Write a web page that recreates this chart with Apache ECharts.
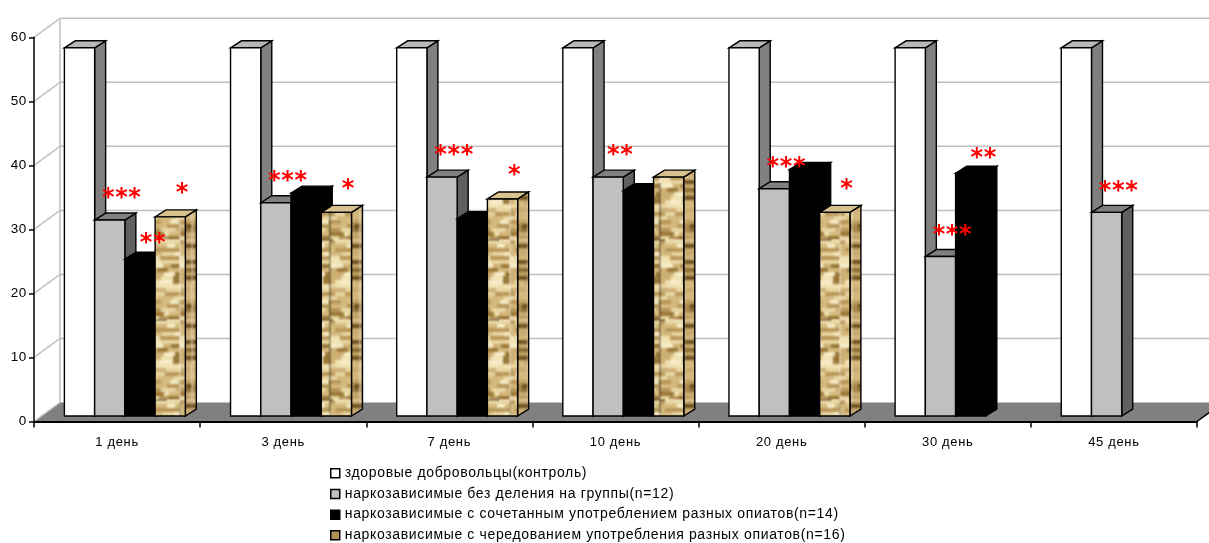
<!DOCTYPE html>
<html><head><meta charset="utf-8">
<script src="https://cdn.jsdelivr.net/npm/echarts@6/dist/echarts.min.js"></script>
<style>html,body{margin:0;padding:0;background:#fff}#c{width:1209px;height:543px}</style>
</head><body><div id="c"></div>
<script>
// ---- data ----
const categories = ['1 день', '3 день', '7 день', '10 день', '20 день', '30 день', '45 день'];
const seriesNames = [
  'здоровые добровольцы(контроль)',
  'наркозависимые без деления на группы(n=12)',
  'наркозависимые с сочетанным употреблением разных опиатов(n=14)',
  'наркозависимые с чередованием употребления разных опиатов(n=16)'
];
const control     = [57.5, 57.5, 57.5, 57.5, 57.5, 57.5, 57.5];
const noDivision  = [30.6, 33.3, 37.3, 37.3, 35.5, 24.9, 31.8];
const combined    = [24.5, 34.8, 30.8, 35.2, 38.5, 37.9, null];
const alternating = [31.1, 31.8, 33.9, 37.3, 31.8, null, null];
const sigControl     = ['', '', '', '', '', '', ''];
const sigNoDivision  = ['***', '***', '***', '**', '***', '***', '***'];
const sigCombined    = ['**', '', '', '', '', '**', ''];
const sigAlternating = ['*', '*', '*', '', '*', '', ''];
const yTickValues = [0, 10, 20, 30, 40, 50, 60];

// ---- style ----
const FONT = '"Liberation Sans", Arial, sans-serif';
const LETTER_SPACING = '0.65px';
const DX = 11, DY = 7, SHIFT_X = 7.8, BASE_UP = 5.5;
const WALL_DX = 26, WALL_DY = 19;

// slightly spaced lettering, as in the original picture
(function () {
  const P = CanvasRenderingContext2D.prototype;
  const origFill = P.fillText, origMeasure = P.measureText, origStroke = P.strokeText;
  P.fillText = function () { this.letterSpacing = LETTER_SPACING; return origFill.apply(this, arguments); };
  P.strokeText = function () { this.letterSpacing = LETTER_SPACING; return origStroke.apply(this, arguments); };
  P.measureText = function () { this.letterSpacing = LETTER_SPACING; return origMeasure.apply(this, arguments); };
})();

function makeTexture(dark, w, h) {
  const raw = document.createElement('canvas');
  raw.width = w; raw.height = h;
  const g = raw.getContext('2d');
  g.fillStyle = dark ? '#b09058' : '#d9c08a';
  g.fillRect(0, 0, w, h);
  const pal = dark
    ? ['#8c6c36', '#c8aa70', '#a8884e', '#bfa062', '#d4b87e', '#6e5020']
    : ['#b89658', '#f0e2b2', '#cdb074', '#e8d6a2', '#f6ecc8', '#d4b97e', '#9a7636'];
  for (let r = 0; r < h / 4; r++) {
    let x = 0, k = 0;
    while (x < w) {
      const q = Math.abs(Math.sin(r * 12.9898 + k * 78.233 + (dark ? 3.1 : 0)) * 43758.5453) % 1;
      const len = 5 + Math.floor(q * 14);
      g.fillStyle = pal[Math.floor(q * 97) % pal.length];
      g.fillRect(x, r * 4, len, 4);
      x += len; k++;
    }
  }
  const out = document.createElement('canvas');
  out.width = w; out.height = h;
  const o = out.getContext('2d');
  o.filter = 'blur(1px)';
  for (let i = -1; i <= 1; i++) for (let j = -1; j <= 1; j++) o.drawImage(raw, i * w, j * h);
  return out;
}
const texFront = makeTexture(false, 30, 80);
const texSide = makeTexture(true, 12, 80);

const faceStyles = [
  { front: '#ffffff', top: '#b8b8b8', side: '#808080', sdx: 12, sdy: -21 },
  { front: '#c0c0c0', top: '#808080', side: '#606060', sdx: 12, sdy: -21 },
  { front: '#000000', top: '#000000', side: '#000000', sdx: 13, sdy: -15 },
  { front: { image: texFront, repeat: 'repeat' }, top: '#d8c28e', side: { image: texSide, repeat: 'repeat' }, sdx: 12, sdy: -23 }
];
const sigs = [sigControl, sigNoDivision, sigCombined, sigAlternating];
const values = [control, noDivision, combined, alternating];

function barRender(slot) {
  const f = faceStyles[slot], sig = sigs[slot];
  return function (params, api) {
    const v = api.value(1);
    if (v == null || isNaN(v)) return;
    const idx = api.value(0);
    const band = api.size([1, 0])[0];
    const w = band * 0.182;
    const top = api.coord([idx, v]);
    const base = api.coord([idx, 0]);
    const x0 = top[0] - 2 * w + slot * w + SHIFT_X;
    const x1 = x0 + w;
    const yT = top[1] - BASE_UP, yB = base[1] - BASE_UP;
    const lw = 1.4;
    const children = [
      { type: 'polygon', shape: { points: [[x1, yT], [x1 + DX, yT - DY], [x1 + DX, yB - DY], [x1, yB]] },
        style: { fill: f.side, stroke: '#000', lineWidth: lw } },
      { type: 'polygon', shape: { points: [[x0, yT], [x0 + DX, yT - DY], [x1 + DX, yT - DY], [x1, yT]] },
        style: { fill: f.top, stroke: '#000', lineWidth: lw } },
      { type: 'rect', shape: { x: x0, y: yT, width: w, height: yB - yT },
        style: { fill: f.front, stroke: '#000', lineWidth: lw } }
    ];
    const s = sig[params.dataIndex];
    if (s) {
      children.push({ type: 'text', z2: 100, x: x0 + w / 2 + f.sdx, y: yT + f.sdy,
        style: { text: s, fill: '#ff0000', font: 'bold 24px "DejaVu Sans", sans-serif', align: 'center', verticalAlign: 'middle' } });
    }
    return { type: 'group', children };
  };
}

function wallRender(params, api) {
  const v = api.value(1);
  const cs = params.coordSys;
  const L = cs.x, R = cs.x + cs.width;
  const y = api.coord([0, v])[1];
  if (v === 0) {
    return { type: 'group', children: [
      { type: 'polygon', shape: { points: [[L, y], [R, y], [R + WALL_DX, y - WALL_DY], [L + WALL_DX, y - WALL_DY]] },
        style: { fill: '#808080', stroke: null } },
      { type: 'line', shape: { x1: L, y1: y, x2: L + WALL_DX, y2: y - WALL_DY }, style: { stroke: '#c0c0c0', lineWidth: 1.5 } },
      { type: 'line', shape: { x1: R, y1: y, x2: R + WALL_DX, y2: y - WALL_DY }, style: { stroke: '#000', lineWidth: 1.5 } },
      { type: 'line', shape: { x1: L + WALL_DX, y1: y - WALL_DY, x2: L + WALL_DX, y2: api.coord([0, 60])[1] - WALL_DY },
        style: { stroke: '#c0c0c0', lineWidth: 1.5 } }
    ] };
  }
  return { type: 'group', children: [
    { type: 'line', shape: { x1: L, y1: y, x2: L + WALL_DX, y2: y - WALL_DY }, style: { stroke: '#c0c0c0', lineWidth: 1.5 } },
    { type: 'line', shape: { x1: L + WALL_DX, y1: y - WALL_DY, x2: R + WALL_DX + 20, y2: y - WALL_DY }, style: { stroke: '#c0c0c0', lineWidth: 1.5 } }
  ] };
}

const legendColors = ['#ffffff', '#c0c0c0', '#000000', '#b0905a'];

const chart = echarts.init(document.getElementById('c'), null, { renderer: 'canvas' });
chart.setOption({
  animation: false,
  backgroundColor: '#ffffff',
  grid: { left: 34, right: 12, top: 37.3, bottom: 121.5, containLabel: false },
  xAxis: {
    type: 'category', data: categories, z: 10,
    axisLine: { lineStyle: { color: '#000', width: 2 } },
    axisTick: { show: true, length: 6, interval: 0, lineStyle: { color: '#000', width: 1.5 } },
    axisLabel: { color: '#000', fontSize: 13, fontFamily: FONT, margin: 14, interval: 0 },
    splitLine: { show: false }
  },
  yAxis: {
    type: 'value', min: 0, max: 60, interval: 10, z: 10,
    axisLine: { show: true, lineStyle: { color: '#000', width: 1.5 } },
    axisTick: { show: true, length: 5, lineStyle: { color: '#000', width: 1.5 } },
    axisLabel: { color: '#000', fontSize: 13.5, fontFamily: FONT, margin: 7 },
    splitLine: { show: false }
  },
  legend: {
    orient: 'vertical', left: 325, top: 461, height: 90,
    itemWidth: 9, itemHeight: 9, itemGap: 6, icon: 'rect',
    textStyle: { color: '#000', fontSize: 14, fontFamily: FONT },
    data: seriesNames.map((n, i) => ({ name: n, itemStyle: { color: legendColors[i], borderColor: '#000', borderWidth: 1.5 } }))
  },
  series: [
    { type: 'custom', name: '_wall', z: 1, silent: true, clip: false, renderItem: wallRender,
      data: yTickValues.map(v => [0, v]), encode: { x: 0, y: 1 } }
  ].concat(values.map((arr, s) => ({
    type: 'custom', name: seriesNames[s], z: 2, clip: false,
    itemStyle: { color: legendColors[s] },
    renderItem: barRender(s),
    data: arr.map((v, i) => [i, v]),
    encode: { x: 0, y: 1 }
  })))
});
</script>
</body></html>
